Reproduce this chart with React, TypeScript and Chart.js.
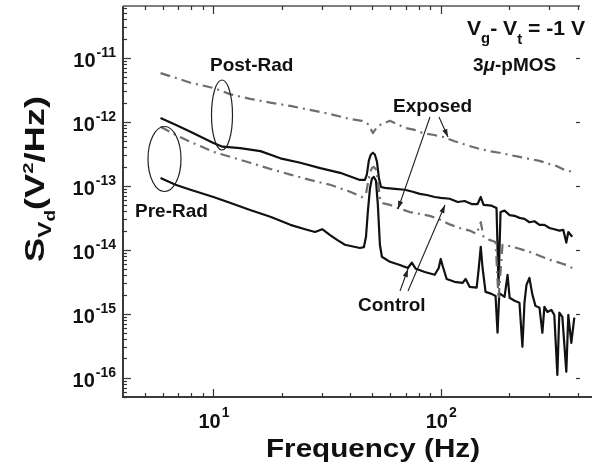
import React, { useEffect, useRef } from "react";
import { Chart, registerables } from "chart.js";
Chart.register(...registerables);

// ---- data (frequency in Hz, PSD in V^2/Hz) ----
const postExposedFreq = [5.85, 6.81, 7.92, 10, 11.9, 14.5, 17.8, 21.8, 26.6, 32.6, 39.9, 45.0, 47.8, 50.3, 52.9, 59.8, 64.1, 69.5, 76.9, 83.4, 92.3, 103, 115, 134, 148, 164, 181, 201, 222, 246, 272, 301, 323, 350, 379];
const postExposedPsd = [5.8e-12, 4.9e-12, 4.1e-12, 3.4e-12, 2.7e-12, 2.3e-12, 2.0e-12, 1.78e-12, 1.54e-12, 1.33e-12, 1.11e-12, 1.04e-12, 9.3e-13, 6.7e-13, 8.7e-13, 1.04e-12, 9.3e-13, 8.1e-13, 7.5e-13, 6.7e-13, 6.3e-13, 5.8e-13, 5.0e-13, 4.2e-13, 3.8e-13, 3.5e-13, 3.3e-13, 3.05e-13, 2.84e-13, 2.64e-13, 2.46e-13, 2.2e-13, 2.05e-13, 1.78e-13, 1.66e-13];

const postControlFreq = [5.85, 6.81, 7.92, 10, 10.95, 13.1, 16.1, 19.7, 24.1, 29.5, 36.1, 44.1, 46.4, 47.3, 48.3, 49.3, 50.3, 51.3, 52.4, 53.5, 54.6, 56.8, 62.8, 69.5, 75.3, 80.9, 86.8, 94.1, 100, 109.5, 118.8, 127.4, 136.8, 145.3, 150, 154.4, 167.4, 176, 179.6, 183.3, 190.9, 201, 211.2, 222, 233.6, 245.6, 258.4, 272, 285.8, 301, 316, 332.5, 346.3, 356.9, 364.2, 379];
const postControlPsd = [1.15e-12, 9.0e-13, 7.0e-13, 4.7e-13, 4.1e-13, 3.9e-13, 3.5e-13, 2.7e-13, 2.3e-13, 1.9e-13, 1.6e-13, 1.24e-13, 1.24e-13, 1.5e-13, 2.5e-13, 3.1e-13, 3.3e-13, 3.1e-13, 2.4e-13, 1.3e-13, 9.6e-14, 9.3e-14, 9.0e-14, 8.7e-14, 8.1e-14, 7.5e-14, 7.2e-14, 6.7e-14, 6.5e-14, 6.3e-14, 5.6e-14, 5.8e-14, 5.2e-14, 5.2e-14, 6.7e-14, 5.05e-14, 4.9e-14, 4.5e-14, 2.8e-15, 3.9e-14, 4.1e-14, 3.5e-14, 3.4e-14, 3.16e-14, 3.05e-14, 2.7e-14, 2.8e-14, 2.46e-14, 2.46e-14, 2.2e-14, 2.1e-14, 2.0e-14, 2.05e-14, 1.3e-14, 1.9e-14, 1.6e-14];

const preExposedFreq = [5.85, 6.81, 7.92, 10, 11.9, 14.5, 17.8, 21.8, 26.6, 32.6, 39.9, 45.0, 46.9, 47.8, 48.8, 49.8, 50.8, 51.9, 52.9, 54.0, 55.1, 59.8, 64.8, 73.1, 80.9, 89.5, 100, 109.5, 121, 134, 143.9, 150, 154.4, 164, 174.3, 179.6, 187, 201, 222, 245.6, 272, 301, 332.5, 356.9, 379];
const preExposedPsd = [8.4e-13, 6.3e-13, 4.9e-13, 3.4e-13, 2.84e-13, 2.3e-13, 1.84e-13, 1.5e-13, 1.24e-13, 1.04e-13, 8.1e-14, 6.7e-14, 7.5e-14, 1.1e-13, 1.6e-13, 1.9e-13, 1.98e-13, 1.8e-13, 1.2e-13, 6.5e-14, 5.4e-14, 5.05e-14, 4.5e-14, 3.9e-14, 3.65e-14, 3.4e-14, 2.94e-14, 2.5e-14, 2.2e-14, 2.0e-14, 1.78e-14, 2.7e-14, 1.6e-14, 1.43e-14, 1.33e-14, 1.7e-15, 1.2e-14, 1.15e-14, 1.04e-14, 9.3e-15, 8.1e-15, 7.0e-15, 6.3e-15, 5.8e-15, 5.2e-15];

const preControlFreq = [5.85, 6.81, 7.92, 10, 11.9, 14.5, 17.8, 21.8, 25.3, 28.0, 30.1, 32.6, 35.0, 37.9, 44.1, 45.9, 46.9, 47.8, 48.8, 49.8, 50.8, 51.9, 52.9, 54.0, 55.1, 59.8, 66.1, 71.7, 74.6, 77.7, 85.1, 94.1, 98.0, 100, 102, 106.2, 115, 124.9, 128.7, 134, 143.9, 146.8, 150, 152.8, 157.5, 167.4, 174.3, 177.8, 181, 190.9, 196.8, 201, 211.2, 222, 228.8, 233.6, 238.4, 245.6, 253.2, 261.1, 272, 280.1, 285.8, 294.6, 306.8, 316, 326, 332.5, 342.8, 356.9, 364.2, 375.5, 387];
const preControlPsd = [1.33e-13, 1.04e-13, 8.7e-14, 6.7e-14, 5.4e-14, 4.2e-14, 3.3e-14, 2.46e-14, 2.1e-14, 1.9e-14, 2.1e-14, 1.7e-14, 1.43e-14, 1.2e-14, 1.07e-14, 1.1e-14, 1.6e-14, 4.0e-14, 9.0e-14, 1.3e-13, 1.38e-13, 1.2e-13, 5.0e-14, 1.2e-14, 7.8e-15, 6.5e-15, 5.8e-15, 5.2e-15, 6.3e-15, 5.05e-15, 4.5e-15, 4.07e-15, 5.2e-15, 7.2e-15, 5.6e-15, 3.5e-15, 3.16e-15, 3.05e-15, 3.5e-15, 2.64e-15, 2.56e-15, 4.9e-15, 1.11e-14, 5.2e-15, 2.2e-15, 2.05e-15, 1.9e-15, 5.05e-16, 2.1e-15, 1.84e-15, 4.07e-15, 1.78e-15, 1.6e-15, 1.49e-15, 3.05e-16, 1.49e-15, 2.84e-15, 3.65e-15, 1.98e-15, 1.33e-15, 1.24e-15, 5.05e-16, 1.28e-15, 1.07e-15, 1.15e-15, 9.6e-16, 1.11e-16, 1.04e-15, 8.98e-16, 1.24e-16, 9.6e-16, 3.52e-16, 8.7e-16];

const xTickExps = [1, 2];
const yTickExps = [-16, -15, -14, -13, -12, -11];

const FONT = '"Liberation Sans", Arial, Helvetica, sans-serif';
const GRAY = "#6e6e6e";
const BLACK = "#111111";

function arrow(ctx: CanvasRenderingContext2D, x1: number, y1: number, x2: number, y2: number) {
  ctx.beginPath();
  ctx.moveTo(x1, y1);
  ctx.lineTo(x2, y2);
  ctx.stroke();
  const a = Math.atan2(y2 - y1, x2 - x1);
  const L = 8, W = 2.6;
  ctx.beginPath();
  ctx.moveTo(x2, y2);
  ctx.lineTo(x2 - L * Math.cos(a) + W * Math.sin(a), y2 - L * Math.sin(a) - W * Math.cos(a));
  ctx.lineTo(x2 - L * Math.cos(a) - W * Math.sin(a), y2 - L * Math.sin(a) + W * Math.cos(a));
  ctx.closePath();
  ctx.fill();
}

const decor = {
  id: "decor",
  afterDatasetsDraw(chart: any) {
    const ctx: CanvasRenderingContext2D = chart.ctx;
    const xs = chart.scales.x;
    const ys = chart.scales.y;
    const { left, right, top, bottom } = chart.chartArea;
    ctx.save();

    // axes
    ctx.strokeStyle = "#3a3a3a";
    ctx.lineWidth = 2;
    ctx.beginPath();
    ctx.moveTo(left, top);
    ctx.lineTo(left, bottom);
    ctx.lineTo(chart.width, bottom);
    ctx.stroke();
    ctx.strokeStyle = "#555";
    ctx.lineWidth = 1.5;
    ctx.beginPath();
    ctx.moveTo(left, top);
    ctx.lineTo(right, top);
    ctx.stroke();

    // ticks
    ctx.strokeStyle = "#333";
    ctx.lineWidth = 1.2;
    const xmin = xs.min, xmax = xs.max;
    for (let n = 0; n <= 2; n++) {
      for (let m = 1; m <= 9; m++) {
        const v = m * Math.pow(10, n);
        if (v <= xmin || v > xmax) continue;
        const px = Math.round(xs.getPixelForValue(v)) + 0.5;
        const len = m === 1 ? 8 : 4;
        ctx.beginPath();
        ctx.moveTo(px, bottom);
        ctx.lineTo(px, bottom - len);
        ctx.moveTo(px, top);
        ctx.lineTo(px, top + len);
        ctx.stroke();
      }
    }
    const ymin = ys.min, ymax = ys.max;
    for (let n = -17; n <= -10; n++) {
      for (let m = 1; m <= 9; m++) {
        const v = m * Math.pow(10, n);
        if (v < ymin || v > ymax) continue;
        const py = Math.round(ys.getPixelForValue(v)) + 0.5;
        const len = m === 1 ? 8 : 4;
        ctx.beginPath();
        ctx.moveTo(left, py);
        ctx.lineTo(left + len, py);
        ctx.stroke();
        if (m === 1) {
          ctx.beginPath();
          ctx.moveTo(right - 4, py);
          ctx.lineTo(right, py);
          ctx.stroke();
        }
      }
    }

    // tick labels
    ctx.fillStyle = BLACK;
    ctx.textBaseline = "alphabetic";
    ctx.textAlign = "left";
    const bigF = `bold 20px ${FONT}`;
    const supF = `bold 14px ${FONT}`;
    for (const e of yTickExps) {
      const py = ys.getPixelForValue(Math.pow(10, e));
      ctx.font = bigF;
      const w1 = ctx.measureText("10").width;
      ctx.font = supF;
      const sup = "-" + String(-e);
      const w2 = ctx.measureText(sup).width;
      const x0 = left - 8 - w1 - w2;
      ctx.font = bigF;
      ctx.fillText("10", x0, py + 9);
      ctx.font = supF;
      ctx.fillText(sup, x0 + w1 + 1, py - 1);
    }
    for (const e of xTickExps) {
      const px = xs.getPixelForValue(Math.pow(10, e));
      ctx.font = bigF;
      const w1 = ctx.measureText("10").width;
      ctx.font = supF;
      const sup = String(e);
      const w2 = ctx.measureText(sup).width;
      const x0 = px - (w1 + w2) / 2;
      ctx.font = bigF;
      ctx.fillText("10", x0, bottom + 31);
      ctx.font = supF;
      ctx.fillText(sup, x0 + w1 + 1, bottom + 20);
    }

    // x title
    {
      ctx.font = `bold 26px ${FONT}`;
      const t = "Frequency (Hz)";
      const w = ctx.measureText(t).width;
      const target = 214;
      ctx.save();
      ctx.translate(373, 457);
      ctx.scale(target / w, 1);
      ctx.textAlign = "center";
      ctx.fillText(t, 0, 0);
      ctx.restore();
    }

    // y title
    {
      const pieces: [string, number, number][] = [
        ["S", 27, 0],
        ["V", 18, 7],
        ["d", 14, 11],
        ["(V", 27, 0],
        ["2", 15, -11],
        ["/Hz)", 27, 0],
      ];
      let total = 0;
      const ws: number[] = [];
      for (const [t, s] of pieces) {
        ctx.font = `bold ${s}px ${FONT}`;
        const w = ctx.measureText(t).width;
        ws.push(w);
        total += w;
      }
      const target = 166;
      ctx.save();
      ctx.translate(44, 262);
      ctx.rotate(-Math.PI / 2);
      ctx.scale(target / total, 1);
      let x = 0;
      pieces.forEach(([t, s, dy], i) => {
        ctx.font = `bold ${s}px ${FONT}`;
        ctx.fillText(t, x, dy);
        x += ws[i];
      });
      ctx.restore();
    }

    // annotation texts
    ctx.font = `bold 19px ${FONT}`;
    ctx.textAlign = "left";
    ctx.fillText("Post-Rad", 210, 71);
    ctx.fillText("Pre-Rad", 135, 217);
    ctx.fillText("Exposed", 393, 112);
    ctx.fillText("Control", 358, 311);

    // Vg - Vt = -1 V
    {
      const seq: [string, number, number][] = [
        ["V", 20, 0],
        ["g", 14, 8],
        ["- V", 20, 0],
        ["t", 14, 9],
        [" = -1 V", 20, 0],
      ];
      let total = 0;
      for (const [t, s] of seq) {
        ctx.font = `bold ${s}px ${FONT}`;
        total += ctx.measureText(t).width;
      }
      const sx = 118 / total;
      ctx.save();
      ctx.translate(467, 35);
      ctx.scale(sx, 1);
      let x = 0;
      for (const [t, s, dy] of seq) {
        ctx.font = `bold ${s}px ${FONT}`;
        ctx.fillText(t, x, dy);
        x += ctx.measureText(t).width;
      }
      ctx.restore();
    }
    // 3μ-pMOS
    {
      const seq: [string, string][] = [
        ["3", `bold 19px ${FONT}`],
        ["\u03bc", `italic bold 19px ${FONT}`],
        ["-pMOS", `bold 19px ${FONT}`],
      ];
      let x = 473;
      for (const [t, f] of seq) {
        ctx.font = f;
        ctx.fillText(t, x, 71);
        x += ctx.measureText(t).width;
      }
    }

    // ellipses
    ctx.strokeStyle = "#222";
    ctx.lineWidth = 1.2;
    ctx.beginPath();
    ctx.ellipse(222, 115, 10.5, 35, 0, 0, Math.PI * 2);
    ctx.stroke();
    ctx.beginPath();
    ctx.ellipse(164.5, 159, 16.5, 32.5, 0, 0, Math.PI * 2);
    ctx.stroke();

    // arrows
    ctx.strokeStyle = "#222";
    ctx.fillStyle = "#222";
    ctx.lineWidth = 1.1;
    arrow(ctx, 430, 117, 398, 209);
    arrow(ctx, 439, 117, 448, 137);
    arrow(ctx, 408, 291, 445, 205);
    arrow(ctx, 400, 291, 408, 269);

    ctx.restore();
  },
};

export default function App() {
  const ref = useRef<HTMLCanvasElement>(null);
  useEffect(() => {
    const toXY = (fs: number[], vs: number[]) => fs.map((f, i) => ({ x: f, y: vs[i] }));
    const chart = new Chart(ref.current as HTMLCanvasElement, {
      type: "line",
      data: {
        datasets: [
          {
            label: "Post-Rad Exposed",
            data: toXY(postExposedFreq, postExposedPsd),
            borderColor: GRAY,
            borderWidth: 2.2,
            borderDash: [10, 5, 2, 5],
            pointRadius: 0,
          },
          {
            label: "Pre-Rad Exposed",
            data: toXY(preExposedFreq, preExposedPsd),
            borderColor: GRAY,
            borderWidth: 2.2,
            borderDash: [10, 5, 2, 5],
            pointRadius: 0,
          },
          {
            label: "Post-Rad Control",
            data: toXY(postControlFreq, postControlPsd),
            borderColor: BLACK,
            borderWidth: 2.2,
            pointRadius: 0,
          },
          {
            label: "Pre-Rad Control",
            data: toXY(preControlFreq, preControlPsd),
            borderColor: BLACK,
            borderWidth: 2.2,
            pointRadius: 0,
          },
        ],
      },
      options: {
        animation: false,
        responsive: false,
        devicePixelRatio: 1,
        layout: { padding: { left: 123, top: 6, right: 12, bottom: 71 } },
        plugins: { legend: { display: false }, tooltip: { enabled: false } },
        elements: { line: { tension: 0, borderJoinStyle: "round" }, point: { radius: 0 } },
        scales: {
          x: { type: "logarithmic", min: 4, max: 410, display: false },
          y: { type: "logarithmic", min: 5.05e-17, max: 6.5e-11, display: false },
        },
      },
      plugins: [decor],
    });
    return () => chart.destroy();
  }, []);
  return (
    <div style={{ position: "fixed", left: 0, top: 0, width: 592, height: 468, background: "#fff" }}>
      <canvas ref={ref} width={592} height={468} style={{ display: "block" }} />
    </div>
  );
}
